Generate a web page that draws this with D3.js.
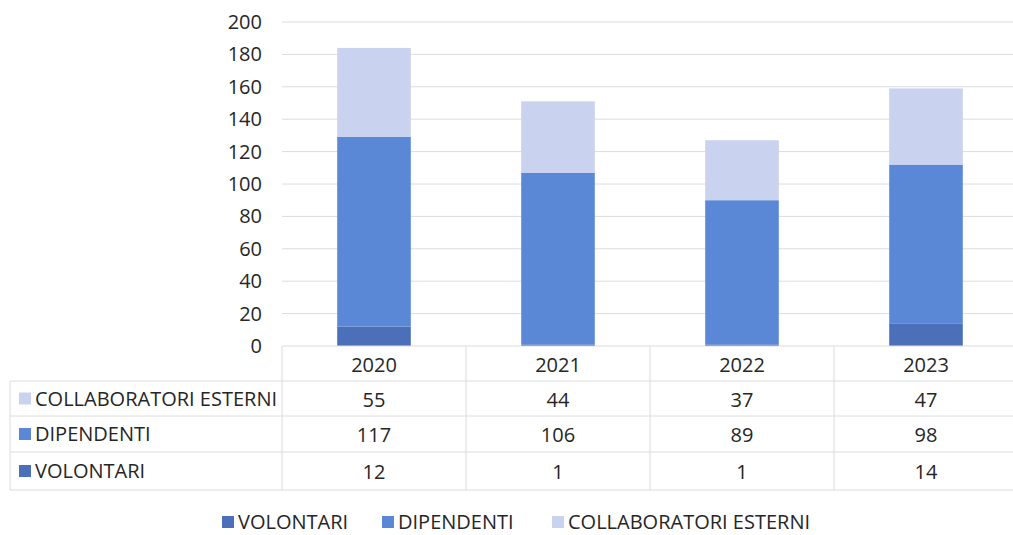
<!DOCTYPE html>
<html><head><meta charset="utf-8">
<script src="https://cdn.jsdelivr.net/npm/d3@7"></script>
<style>body{margin:0;background:#fff}svg{display:block}text{font-family:"Open Sans","Noto Sans",sans-serif;fill:#262626}</style>
</head><body><svg id="c" width="1013" height="535"></svg>
<script>
const years = ["2020","2021","2022","2023"];
const volontari = [12,1,1,14];
const dipendenti = [117,106,89,98];
const collaboratori = [55,44,37,47];
const yTicks = [0,20,40,60,80,100,120,140,160,180,200];
const seriesNames = ["VOLONTARI","DIPENDENTI","COLLABORATORI ESTERNI"];
const colors = {"VOLONTARI":"#4b6fb9","DIPENDENTI":"#5b87d7","COLLABORATORI ESTERNI":"#c9d3f0"};

(function(){
const svg = d3.select("#c");
const pL = 282, pR = 1018, pT = 22, pB = 346;
const FS = "20px";
const x = d3.scaleBand().domain(years).range([pL, pR]).paddingInner(0).paddingOuter(0);
const y = d3.scaleLinear().domain([0,200]).range([pB, pT]);

svg.append("g").selectAll("line").data(yTicks.filter(d=>d>0)).join("line")
  .attr("x1", pL).attr("x2", pR).attr("y1", d=>y(d)).attr("y2", d=>y(d))
  .attr("stroke","#dcdcdc").attr("stroke-width",1);

const ya = svg.append("g").attr("transform",`translate(${pL},0)`)
  .call(d3.axisLeft(y).tickValues(yTicks).tickSize(0).tickPadding(20));
ya.select(".domain").remove();
ya.selectAll("text").style("font-size",FS).style("font-family",'"Open Sans",sans-serif').attr("fill","#262626");

const rows = years.map((yr,i)=>({year:yr,"VOLONTARI":volontari[i],"DIPENDENTI":dipendenti[i],"COLLABORATORI ESTERNI":collaboratori[i]}));
const stack = d3.stack().keys(seriesNames)(rows);
const bw = x.bandwidth()*0.4;
svg.append("g").selectAll("g").data(stack).join("g").attr("fill",d=>colors[d.key])
  .selectAll("rect").data(d=>d).join("rect")
  .attr("x", d=>x(d.data.year)+ (x.bandwidth()-bw)/2)
  .attr("width", bw)
  .attr("y", d=>y(d[1]))
  .attr("height", d=>y(d[0])-y(d[1]));

const tableLeft = 10;
const rowEdges = [pB, 381, 416, 452, 490];
const tg = svg.append("g");
tg.selectAll("line.h").data(rowEdges.slice(1)).join("line").attr("class","h")
  .attr("x1", tableLeft).attr("x2", pR).attr("y1", d=>d).attr("y2", d=>d)
  .attr("stroke","#dcdcdc");
tg.append("line").attr("x1", pL).attr("x2", pR).attr("y1", pB).attr("y2", pB).attr("stroke","#dcdcdc");
const vx = [pL].concat(years.map(yr=>x(yr)+x.bandwidth()));
tg.selectAll("line.v").data(vx).join("line").attr("class","v")
  .attr("x1", d=>d).attr("x2", d=>d).attr("y1", pB).attr("y2", rowEdges[4]).attr("stroke","#dcdcdc");
tg.append("line").attr("x1", tableLeft).attr("x2", tableLeft).attr("y1", rowEdges[1]).attr("y2", rowEdges[4]).attr("stroke","#dcdcdc");

tg.selectAll("text.yr").data(years).join("text").attr("class","yr")
  .attr("x", d=>x(d)+x.bandwidth()/2).attr("y", (rowEdges[0]+rowEdges[1])/2+8)
  .attr("text-anchor","middle").style("font-size",FS).text(d=>d);

const tableRows = [
  {name:"COLLABORATORI ESTERNI", vals:collaboratori},
  {name:"DIPENDENTI", vals:dipendenti},
  {name:"VOLONTARI", vals:volontari}
];
tableRows.forEach((r,i)=>{
  const cy = (rowEdges[i+1]+rowEdges[i+2])/2;
  tg.append("rect").attr("x", 19).attr("y", cy-6).attr("width",12).attr("height",12).attr("fill",colors[r.name]);
  tg.append("text").attr("x", 35).attr("y", cy+7).style("font-size",FS).text(r.name);
  tg.selectAll(null).data(r.vals).join("text")
    .attr("x",(d,j)=>x(years[j])+x.bandwidth()/2).attr("y", cy+8)
    .attr("text-anchor","middle").style("font-size",FS).text(d=>d);
});

const legX = [222, 382, 552];
const lg = svg.append("g");
seriesNames.forEach((s,i)=>{
  lg.append("rect").attr("x", legX[i]).attr("y", 516).attr("width",12).attr("height",12).attr("fill",colors[s]);
  lg.append("text").attr("x", legX[i]+16).attr("y", 529).style("font-size",FS).text(s);
});
})();
</script></body></html>
